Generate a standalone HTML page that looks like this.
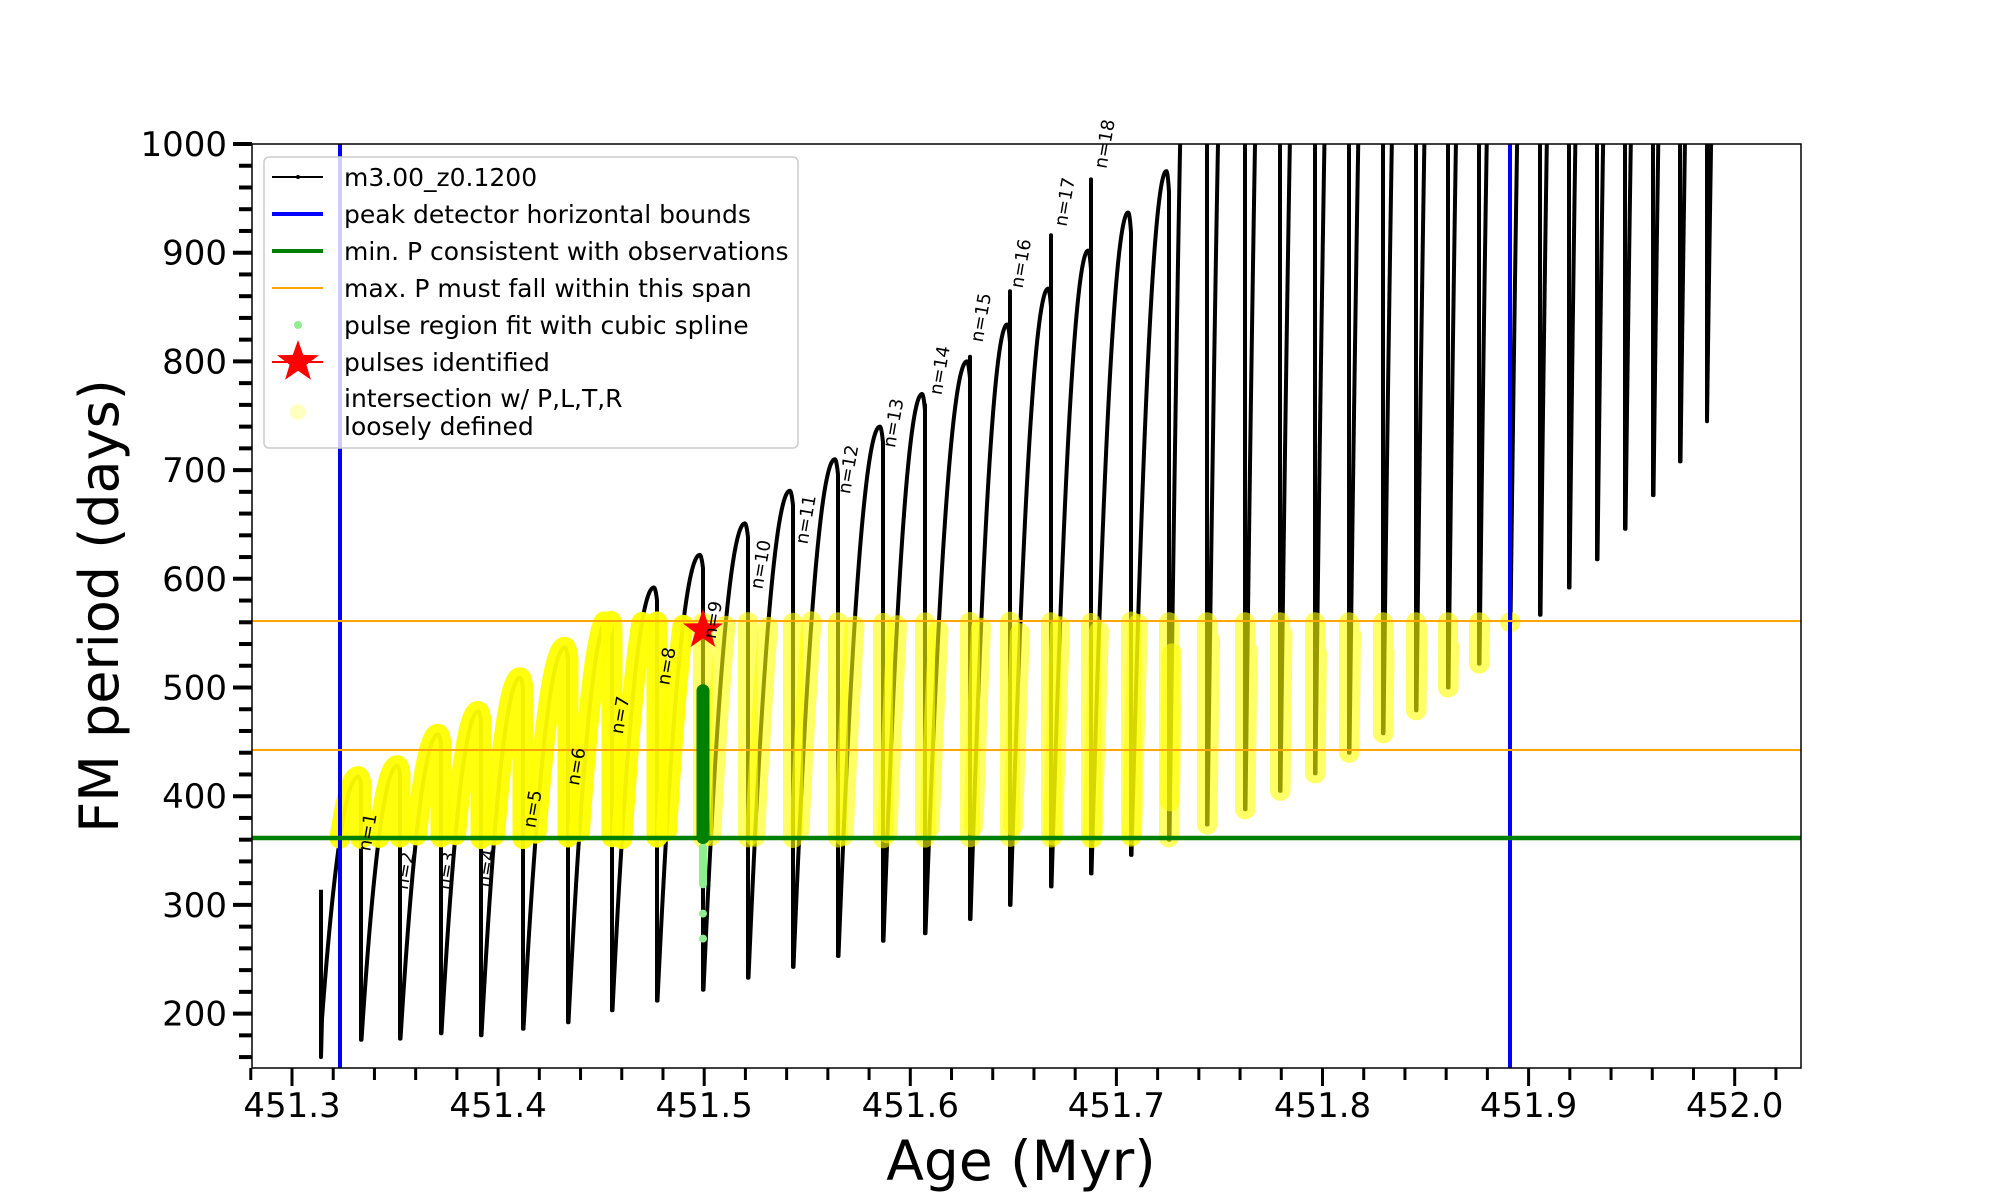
<!DOCTYPE html>
<html><head><meta charset="utf-8">
<style>
html,body{margin:0;padding:0;background:#fff;}
svg{display:block;font-family:"DejaVu Sans","Liberation Sans",sans-serif;}
</style></head>
<body>
<svg id="s" width="2000" height="1200" viewBox="0 0 2000 1200" xmlns="http://www.w3.org/2000/svg">
<defs><clipPath id="cp"><rect x="252" y="144" width="1549" height="924"/></clipPath></defs>
<rect width="2000" height="1200" fill="#fff"/>
<g id="plot" clip-path="url(#cp)"></g>
<g id="ax"></g>
<rect x="252" y="144" width="1549" height="924" fill="none" stroke="#000" stroke-width="1.5"/>
<text x="1021" y="1180" font-size="55" text-anchor="middle">Age (Myr)</text>
<text transform="translate(118,606) rotate(-90)" font-size="54" text-anchor="middle">FM period (days)</text>
<g id="leg">
<rect x="264" y="157" width="534" height="291" rx="5" fill="#fff" fill-opacity="0.8" stroke="#ccc" stroke-width="1.5"/>
<line x1="272" y1="177" x2="323" y2="177" stroke="#000" stroke-width="2"/><circle cx="298" cy="177" r="2" fill="#000"/>
<text x="344" y="186" font-size="25">m3.00_z0.1200</text>
<line x1="272" y1="214" x2="323" y2="214" stroke="#0000ff" stroke-width="4"/>
<text x="344" y="223" font-size="25">peak detector horizontal bounds</text>
<line x1="272" y1="251" x2="323" y2="251" stroke="#008000" stroke-width="4"/>
<text x="344" y="260" font-size="25">min. P consistent with observations</text>
<line x1="272" y1="288" x2="323" y2="288" stroke="#ffa500" stroke-width="2"/>
<text x="344" y="297" font-size="25">max. P must fall within this span</text>
<circle cx="298" cy="325" r="4" fill="#90ee90"/>
<text x="344" y="334" font-size="25">pulse region fit with cubic spline</text>
<line x1="272" y1="362" x2="323" y2="362" stroke="#ff0000" stroke-width="2"/>
<polygon id="lstar" fill="#ff0000"/>
<text x="344" y="371" font-size="25">pulses identified</text>
<circle cx="298" cy="412" r="8" fill="#ffffc0"/>
<text x="344" y="407" font-size="25">intersection w/ P,L,T,R</text>
<text x="344" y="435" font-size="25">loosely defined</text>
</g>
</svg>
<script>
(function(){
var NS="http://www.w3.org/2000/svg";
function el(tag,attrs,parent,txt){var e=document.createElementNS(NS,tag);for(var k in attrs)e.setAttribute(k,attrs[k]);if(txt!==undefined)e.textContent=txt;parent.appendChild(e);return e;}
function Y(P){return 144+(1000-P)*1.087;}
function starPts(cx,cy,R){var r=R*0.4,p=[];for(var i=0;i<10;i++){var a=-Math.PI/2+i*Math.PI/5,rr=i%2?r:R;p.push((cx+rr*Math.cos(a)).toFixed(1)+","+(cy+rr*Math.sin(a)).toFixed(1));}return p.join(" ");}
document.getElementById("lstar").setAttribute("points",starPts(298,362,22));
var plot=document.getElementById("plot"),ax=document.getElementById("ax");
var drops=[361,400,441,481,523,568,612,657,703,748,793,838,883,925,970,1010,1051,1091,1131,1169,1207,1245,1280,1315,1349,1383,1416,1448,1479,1510,1540,1569,1597,1625,1653,1680,1707];
var peaks=[418,428,457,478,509,537,566,592,622,651,681,710,740,770,800,834,867,902,937,975];
while(peaks.length<drops.length)peaks.push(1600);
var mins=[176,177,182,180,186,192,203,212,222,233,243,253,267,274,287,300,317,329,346,360,374,388,405,421,440,458,479,500,522,560,567,592,618,646,677,708,745];
var spikes={13:5,14:20,15:47,16:66,17:83};
var pts=[];
function seg(x0,x1,mn,pk){
 for(var x=x0;x<=x1;x+=0.5){var u=(x-x0)/(x1-x0),P;
  if(u<0.93){P=mn+(pk-mn)*(1-Math.pow(1-u/0.93,2));}
  else{var v=(u-0.93)/0.07;P=pk-(pk-mn)*0.03*v*v;}
  pts.push([x,P]);}
}
for(var P=314;P>=159;P-=2)pts.push([321,P]);
seg(322,drops[0],195,peaks[0]);
for(var i=0;i<drops.length;i++){
 var x=drops[i],last=pts[pts.length-1][1];
 var top=last+(spikes[i]||0);
 for(var p=last;p<=top;p+=2)pts.push([x,p]);
 for(var p=Math.min(top,1010);p>=mins[i];p-=2)pts.push([x,p]);
 pts.push([x,mins[i]]);
 var x1=(i+1<drops.length)?drops[i+1]:x+27;
 var pk=(i+1<drops.length)?peaks[i+1]:1600;
 if(i+1<drops.length)seg(x+0.5,x1,mins[i],pk);
 else{for(var xx=x+0.5;xx<x+8;xx+=0.5){var u=(xx-x)/27;pts.push([xx,mins[i]+(pk-mins[i])*(1-Math.pow(1-u/0.93,2))]);}}
}
function ptStr(a){return a.map(function(q){return q[0].toFixed(1)+","+Y(Math.min(q[1],1015)).toFixed(1);}).join(" ");}
el("polyline",{points:ptStr(pts),fill:"none",stroke:"#000","stroke-width":4,"stroke-linejoin":"round"},plot);
var runs=[],cur=null;
for(var k=0;k<pts.length;k++){var q=pts[k];
 var inb=q[1]>=361&&q[1]<=561&&q[0]>=340&&q[0]<=1512;
 if(inb){if(!cur){cur=[];runs.push(cur);}cur.push(q);}else cur=null;}
runs.forEach(function(r){
 var solid=r[0][0]<700;
 el("polyline",{points:ptStr(r),fill:"none",stroke:"#ffff00","stroke-width":solid?21:20,"stroke-linecap":"round","stroke-linejoin":"round","stroke-opacity":solid?0.95:0.6},plot);
});
el("line",{x1:340,y1:144,x2:340,y2:1068,stroke:"#0000ff","stroke-width":4},plot);
el("line",{x1:1510,y1:144,x2:1510,y2:1068,stroke:"#0000ff","stroke-width":4},plot);
el("line",{x1:252,y1:621,x2:1801,y2:621,stroke:"#ffa500","stroke-width":2},plot);
el("line",{x1:252,y1:750,x2:1801,y2:750,stroke:"#ffa500","stroke-width":2},plot);
el("line",{x1:252,y1:838,x2:1801,y2:838,stroke:"#008000","stroke-width":4.5},plot);
el("line",{x1:703,y1:Y(353),x2:703,y2:Y(319),stroke:"#90ee90","stroke-width":8,"stroke-linecap":"round"},plot);
el("circle",{cx:703,cy:Y(292),r:4,fill:"#90ee90"},plot);
el("circle",{cx:703,cy:Y(269),r:4,fill:"#90ee90"},plot);
el("line",{x1:703,y1:Y(497),x2:703,y2:Y(362),stroke:"#008000","stroke-width":13,"stroke-linecap":"round"},plot);
el("polygon",{points:starPts(703,630,21),fill:"#ff0000"},plot);
var lab=[[1,291,648],[2,320,678],[3,352,678],[4,383,676],[5,419,630],[6,453,597],[7,487,557],[8,523,519],[9,559,483],[10,596,440],[11,631,405],[12,664,366],[13,699,330],[14,735,289],[15,767,248],[16,798,206],[17,832,158],[18,863,113]];
lab.forEach(function(l){var x=1.2887*l[1]-7,y=1.2864*l[2]-1.4;
 el("text",{transform:"translate("+x.toFixed(1)+","+y.toFixed(1)+") rotate(-80)","font-size":18,"text-anchor":"middle","dominant-baseline":"central"},ax,"n="+l[0]);});
for(var v=160;v<=1000;v+=20){var y=Y(v),maj=(v%100===0);
 el("line",{x1:maj?233:239,y1:y,x2:252,y2:y,stroke:"#000","stroke-width":4},ax);
 if(maj)el("text",{x:227,y:y+12,"font-size":34,"text-anchor":"end"},ax,String(v));}
for(var j=0;j<=37;j++){var a=451.28+j*0.02,x=292+(a-451.3)*2061;if(x>1801)break;
 var maj=(Math.abs(Math.round(a*10)-a*10)<1e-6);
 el("line",{x1:x,y1:1068,x2:x,y2:maj?1086:1080,stroke:"#000","stroke-width":3},ax);
 if(maj)el("text",{x:x,y:1117,"font-size":34,"text-anchor":"middle"},ax,a.toFixed(1));}
})();
</script>
</body></html>
